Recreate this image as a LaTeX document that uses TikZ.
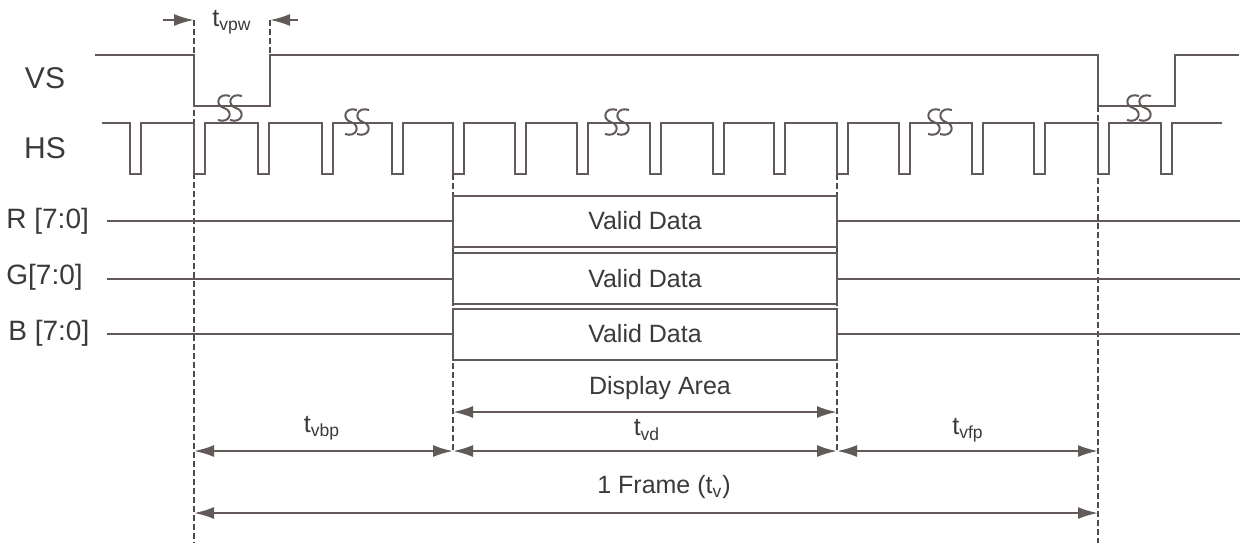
\documentclass[tikz,border=0pt]{standalone}
\usepackage{fontspec}
\setmainfont{Liberation Sans}
\usetikzlibrary{arrows.meta}
\definecolor{wavecol}{RGB}{98,90,88}
\definecolor{txtcol}{RGB}{58,58,58}

\begin{document}
\begin{tikzpicture}[x=0.5pt,y=-0.5pt,>={Latex[length=10pt,width=6pt]},
  wave/.style={draw=wavecol,line width=1pt},
  guide/.style={draw=black!70,line width=0.8pt,dash pattern=on 3pt off 1.5pt},
  dim/.style={{Latex[length=10pt,width=6pt]}-{Latex[length=10pt,width=6pt]},draw=wavecol,line width=1.1pt},
  sig/.style={text=txtcol,font=\fontsize{15}{18}\selectfont},
  bus/.style={text=txtcol,font=\fontsize{14}{17}\selectfont,anchor=west,inner sep=0pt},
  lbl/.style={text=txtcol,font=\fontsize{12.5}{15}\selectfont},
  databox/.style={draw=wavecol,line width=1pt,minimum width=192pt,
    minimum height=25.5pt,inner sep=0pt,text=txtcol,font=\fontsize{12.5}{15}\selectfont},
  brk/.pic={
    \draw[wavecol,line width=1pt] (6,-12) .. controls (-6,-16) and (-10,-3) .. (0,0)
      .. controls (10,3) and (6,16) .. (-6,12);
    \draw[wavecol,line width=1pt] (18,-12) .. controls (6,-16) and (2,-3) .. (12,0)
      .. controls (22,3) and (18,16) .. (6,12);}]

  \useasboundingbox (0,0) rectangle (1245,543);

  % time marks and arrow rows
  \coordinate (fs) at (194,0);
  \coordinate (pe) at (270,0);
  \coordinate (ds) at (453,0);
  \coordinate (de) at (837,0);
  \coordinate (fe) at (1098,0);
  \coordinate (top) at (0,20);
  \coordinate (rowA) at (0,412);
  \coordinate (rowB) at (0,451);
  \coordinate (rowC) at (0,513);

  % signal names
  \node[sig] (vs) at (45,78) {VS};
  \node[sig] (hs) at (45,148) {HS};
  \node[bus] (r) at (6,221) {R [7:0]};
  \node[bus] (g) at (6,277) {G[7:0]};
  \node[bus] (b) at (8,333) {B [7:0]};

  % guides
  \draw[guide] (fs |- top) -- (194,543);
  \draw[guide] (pe |- top) -- (270,55);
  \draw[guide] (453,174) -- (ds |- rowB);
  \draw[guide] (837,174) -- (de |- rowB);
  \draw[guide] (1098,106) -- (1098,543);

  % VS
  \draw[wave] (95,55) -- (194,55) -- (194,106) -- (270,106) -- (270,55) -- (1098,55)
    -- (1098,106) -- (1175,106) -- (1175,55) -- (1239,55);

  % HS
  \draw[wave] (102,123) foreach \x in {130,194,258,322,392,453,515,577,650,713,774,837,899,972,1034,1098,1161}
    { -- (\x,123) -- (\x,174) -- ({\x+11},174) -- ({\x+11},123) } -- (1222,123);

  % breaks
  \pic at (224,108) {brk};
  \pic at (351,122) {brk};
  \pic at (611,122) {brk};
  \pic at (934,122) {brk};
  \pic at (1133,108) {brk};

  % data
  \node[databox] (rd) at (645,221) {Valid Data};
  \node[databox] (gd) at (645,278.5) {Valid Data};
  \node[databox] (bd) at (645,334) {Valid Data};
  \coordinate (rin) at (107,221);
  \coordinate (gin) at (107,278.5);
  \coordinate (bin) at (107,334);
  \coordinate (rout) at (1240,221);
  \coordinate (gout) at (1240,278.5);
  \coordinate (bout) at (1240,334);
  \draw[wave] (rin) -- (rd.west) (rd.east) -- (rout);
  \draw[wave] (gin) -- (gd.west) (gd.east) -- (gout);
  \draw[wave] (bin) -- (bd.west) (bd.east) -- (bout);

  % pulse width
  \draw[wave,->] (163,20) -- (fs |- top);
  \draw[wave,->] (298,20) -- (pe |- top);
  \node[lbl] (tvpw) at (232,22) {t\textsubscript{vpw}};

  % dimensions
  \draw[dim] (ds |- rowA) -- (de |- rowA);
  \node[lbl] (da) at (660,388) {Display Area};
  \draw[dim] (fs |- rowB) -- (ds |- rowB);
  \draw[dim] (ds |- rowB) -- (de |- rowB);
  \draw[dim] (de |- rowB) -- (fe |- rowB);
  \node[lbl] (tvbp) at (322,428) {t\textsubscript{vbp}};
  \node[lbl] (tvd) at (647,430) {t\textsubscript{vd}};
  \node[lbl] (tvfp) at (968,430) {t\textsubscript{vfp}};
  \draw[dim] (fs |- rowC) -- (fe |- rowC);
  \node[lbl] (fr) at (664,487) {1 Frame (t\textsubscript{v})};

\end{tikzpicture}
\end{document}
